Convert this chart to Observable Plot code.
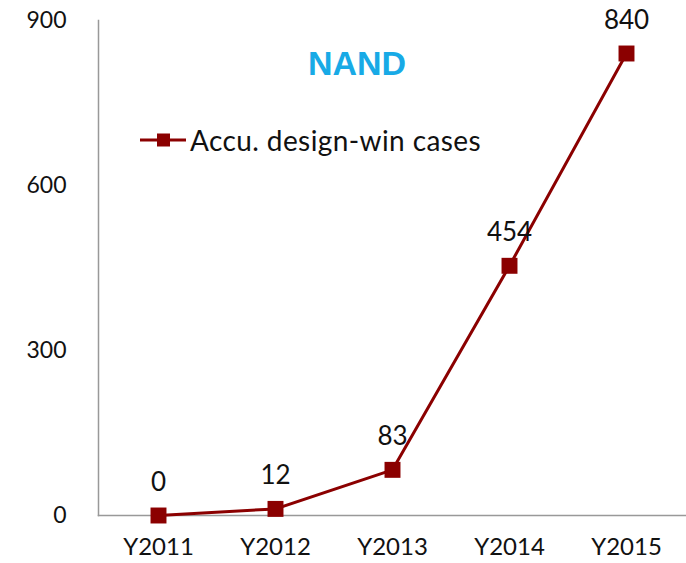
<!DOCTYPE html>
<html>
<head>
<meta charset="utf-8">
<script src="https://cdn.jsdelivr.net/npm/d3@7"></script>
<script src="https://cdn.jsdelivr.net/npm/@observablehq/plot@0.6"></script>
<style>
  html, body { margin: 0; padding: 0; background: #fff; }
  #wrap { position: relative; width: 686px; height: 563px; font-family: Lato, "Open Sans", sans-serif; }
  #title { position: absolute; left: 257px; width: 200px; top: 42px; text-align: center; font-family: "Liberation Sans", Arial, sans-serif; font-weight: bold; font-size: 34px; line-height: 42px; color: #18aae6; }
  #legend { position: absolute; left: 140px; top: 122px; display: flex; align-items: center; font-size: 28px; letter-spacing: 0.4px; line-height: 36px; color: #111; }
  #legend svg { margin-right: 4px; }
</style>
</head>
<body>
<div id="wrap">
  <div id="chart"></div>
  <div id="title">NAND</div>
  <div id="legend"><svg width="46" height="20"><line x1="0" y1="10" x2="46" y2="10" stroke="#8b0000" stroke-width="3"/><rect x="17" y="3.5" width="13" height="13" fill="#8b0000"/></svg><span>Accu. design-win cases</span></div>
</div>
<script>
const years = ["Y2011", "Y2012", "Y2013", "Y2014", "Y2015"];
const cases = [0, 12, 83, 454, 840];
const yTicks = [0, 300, 600, 900];
const seriesName = "Accu. design-win cases";

const data = years.map((y, i) => ({year: y, value: cases[i]}));
const color = "#8b0000";

const chart = Plot.plot({
  width: 686,
  height: 563,
  marginLeft: 98,
  marginRight: 0,
  marginTop: 20,
  marginBottom: 48,
  style: {fontFamily: "Lato, 'Open Sans', sans-serif", fontSize: "23px", color: "#111", background: "#fff"},
  x: {type: "point", domain: years, padding: 0.5, label: null},
  y: {domain: [0, 900], label: null},
  marks: [
    Plot.frame({anchor: "left", stroke: "#999", strokeWidth: 1.5}),
    Plot.frame({anchor: "bottom", stroke: "#999", strokeWidth: 1.5}),
    Plot.axisY(yTicks, {tickSize: 0, tickPadding: 32, fontSize: 23, label: null}),
    Plot.axisX({tickSize: 0, tickPadding: 22, fontSize: 24, label: null}),
    Plot.line(data, {x: "year", y: "value", stroke: color, strokeWidth: 3}),
    Plot.dot(data, {x: "year", y: "value", symbol: "square", r: 9, fill: color}),
    Plot.text(data, {x: "year", y: "value", text: d => String(d.value), dy: -33, fontSize: 26, fill: "#111"})
  ]
});
document.getElementById("chart").appendChild(chart);
</script>
</body>
</html>
